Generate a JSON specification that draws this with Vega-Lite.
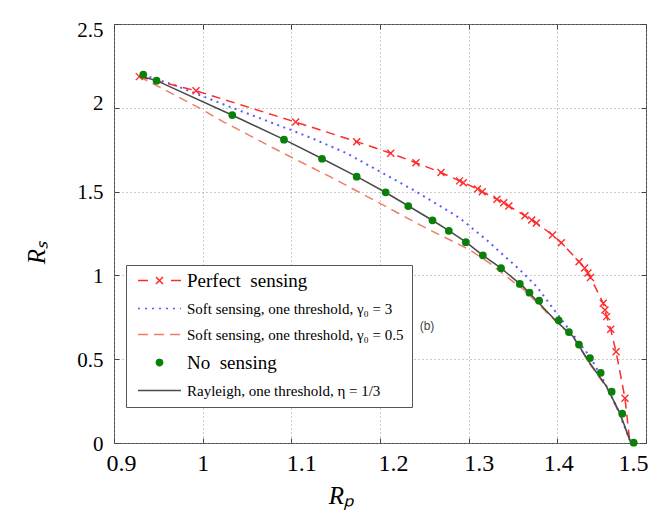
{
  "$schema": "https://vega.github.io/schema/vega-lite/v6.json",
  "width": 532,
  "height": 419,
  "autosize": {"type": "none"},
  "padding": {"left": 114, "top": 24, "right": 12, "bottom": 76},
  "background": "white",
  "config": {
    "view": {"stroke": "#4d4d4d", "strokeWidth": 1},
    "axis": {"domain": false, "tickColor": "#444", "labelColor": "black", "titleColor": "black"}
  },
  "datasets": {
    "curves": [
      {"s": "perfect", "x": 0.9285, "y": 2.186},
      {"s": "perfect", "x": 0.9925, "y": 2.102},
      {"s": "perfect", "x": 1.1049, "y": 1.915},
      {"s": "perfect", "x": 1.1737, "y": 1.798},
      {"s": "perfect", "x": 1.2121, "y": 1.729},
      {"s": "perfect", "x": 1.2406, "y": 1.672},
      {"s": "perfect", "x": 1.2688, "y": 1.614},
      {"s": "perfect", "x": 1.2897, "y": 1.564},
      {"s": "perfect", "x": 1.2939, "y": 1.553},
      {"s": "perfect", "x": 1.31, "y": 1.516},
      {"s": "perfect", "x": 1.3153, "y": 1.499},
      {"s": "perfect", "x": 1.3319, "y": 1.454},
      {"s": "perfect", "x": 1.3395, "y": 1.434},
      {"s": "perfect", "x": 1.3453, "y": 1.414},
      {"s": "perfect", "x": 1.3635, "y": 1.356},
      {"s": "perfect", "x": 1.3711, "y": 1.331},
      {"s": "perfect", "x": 1.3763, "y": 1.313},
      {"s": "perfect", "x": 1.3945, "y": 1.241},
      {"s": "perfect", "x": 1.4045, "y": 1.195},
      {"s": "perfect", "x": 1.4245, "y": 1.082},
      {"s": "perfect", "x": 1.4308, "y": 1.044},
      {"s": "perfect", "x": 1.4345, "y": 1.015},
      {"s": "perfect", "x": 1.4374, "y": 0.987},
      {"s": "perfect", "x": 1.4518, "y": 0.834},
      {"s": "perfect", "x": 1.4537, "y": 0.794},
      {"s": "perfect", "x": 1.4556, "y": 0.754},
      {"s": "perfect", "x": 1.4602, "y": 0.678},
      {"s": "perfect", "x": 1.4662, "y": 0.545},
      {"s": "perfect", "x": 1.4763, "y": 0.267},
      {"s": "perfect", "x": 1.4819, "y": 0},
      {"s": "soft3", "x": 0.933, "y": 2.196},
      {"s": "soft3", "x": 0.968, "y": 2.136},
      {"s": "soft3", "x": 1.032, "y": 2.003},
      {"s": "soft3", "x": 1.0993, "y": 1.868},
      {"s": "soft3", "x": 1.1248, "y": 1.815},
      {"s": "soft3", "x": 1.1624, "y": 1.729},
      {"s": "soft3", "x": 1.2, "y": 1.619},
      {"s": "soft3", "x": 1.2375, "y": 1.51},
      {"s": "soft3", "x": 1.2752, "y": 1.39},
      {"s": "soft3", "x": 1.2902, "y": 1.341},
      {"s": "soft3", "x": 1.3203, "y": 1.211},
      {"s": "soft3", "x": 1.339, "y": 1.122},
      {"s": "soft3", "x": 1.3579, "y": 1.032},
      {"s": "soft3", "x": 1.3767, "y": 0.933},
      {"s": "soft3", "x": 1.3993, "y": 0.774},
      {"s": "soft3", "x": 1.418, "y": 0.644},
      {"s": "soft3", "x": 1.4368, "y": 0.515},
      {"s": "soft3", "x": 1.4518, "y": 0.376},
      {"s": "soft3", "x": 1.4669, "y": 0.217},
      {"s": "soft3", "x": 1.483, "y": 0},
      {"s": "soft05", "x": 0.9285, "y": 2.186},
      {"s": "soft05", "x": 0.9527, "y": 2.12},
      {"s": "soft05", "x": 0.9933, "y": 2.007},
      {"s": "soft05", "x": 1.024, "y": 1.915},
      {"s": "soft05", "x": 1.091, "y": 1.729},
      {"s": "soft05", "x": 1.1436, "y": 1.589},
      {"s": "soft05", "x": 1.2, "y": 1.43},
      {"s": "soft05", "x": 1.2451, "y": 1.301},
      {"s": "soft05", "x": 1.2677, "y": 1.241},
      {"s": "soft05", "x": 1.3015, "y": 1.152},
      {"s": "soft05", "x": 1.324, "y": 1.072},
      {"s": "soft05", "x": 1.3429, "y": 0.992},
      {"s": "soft05", "x": 1.3616, "y": 0.918},
      {"s": "soft05", "x": 1.3993, "y": 0.72},
      {"s": "soft05", "x": 1.418, "y": 0.63},
      {"s": "soft05", "x": 1.4368, "y": 0.47},
      {"s": "soft05", "x": 1.4556, "y": 0.33},
      {"s": "soft05", "x": 1.4706, "y": 0.17},
      {"s": "soft05", "x": 1.483, "y": 0},
      {"s": "rayleigh", "x": 0.929, "y": 2.19},
      {"s": "rayleigh", "x": 0.948, "y": 2.162},
      {"s": "rayleigh", "x": 1.033, "y": 1.957},
      {"s": "rayleigh", "x": 1.092, "y": 1.81},
      {"s": "rayleigh", "x": 1.135, "y": 1.696},
      {"s": "rayleigh", "x": 1.174, "y": 1.589},
      {"s": "rayleigh", "x": 1.206, "y": 1.496},
      {"s": "rayleigh", "x": 1.232, "y": 1.414},
      {"s": "rayleigh", "x": 1.259, "y": 1.329},
      {"s": "rayleigh", "x": 1.278, "y": 1.266},
      {"s": "rayleigh", "x": 1.297, "y": 1.198},
      {"s": "rayleigh", "x": 1.316, "y": 1.12},
      {"s": "rayleigh", "x": 1.3365, "y": 1.043},
      {"s": "rayleigh", "x": 1.3616, "y": 0.933},
      {"s": "rayleigh", "x": 1.3993, "y": 0.724},
      {"s": "rayleigh", "x": 1.418, "y": 0.634},
      {"s": "rayleigh", "x": 1.4368, "y": 0.476},
      {"s": "rayleigh", "x": 1.4556, "y": 0.336},
      {"s": "rayleigh", "x": 1.4706, "y": 0.177},
      {"s": "rayleigh", "x": 1.483, "y": 0},
      {"s": "none", "x": 0.933, "y": 2.198},
      {"s": "none", "x": 0.948, "y": 2.162},
      {"s": "none", "x": 1.0334, "y": 1.957},
      {"s": "none", "x": 1.0917, "y": 1.81},
      {"s": "none", "x": 1.1346, "y": 1.696},
      {"s": "none", "x": 1.1737, "y": 1.589},
      {"s": "none", "x": 1.2064, "y": 1.496},
      {"s": "none", "x": 1.2319, "y": 1.414},
      {"s": "none", "x": 1.2592, "y": 1.329},
      {"s": "none", "x": 1.2776, "y": 1.266},
      {"s": "none", "x": 1.2968, "y": 1.198},
      {"s": "none", "x": 1.316, "y": 1.12},
      {"s": "none", "x": 1.3365, "y": 1.043},
      {"s": "none", "x": 1.3577, "y": 0.949},
      {"s": "none", "x": 1.3686, "y": 0.897},
      {"s": "none", "x": 1.3795, "y": 0.849},
      {"s": "none", "x": 1.4015, "y": 0.732},
      {"s": "none", "x": 1.4131, "y": 0.662},
      {"s": "none", "x": 1.4244, "y": 0.587},
      {"s": "none", "x": 1.4368, "y": 0.507},
      {"s": "none", "x": 1.4489, "y": 0.419},
      {"s": "none", "x": 1.4613, "y": 0.306},
      {"s": "none", "x": 1.4732, "y": 0.175},
      {"s": "none", "x": 1.4861, "y": 0.002}
    ],
    "annotation": [
      {"x": 1.253, "y": 0.698, "label": "(b)"}
    ]
  },
  "data": {"name": "curves"},
  "resolve": {"axis": {"x": "independent", "y": "independent"}},
  "layer": [
    {
      "transform": [{"filter": "datum.s === 'soft05'"}],
      "mark": {"type": "line", "strokeWidth": 1.5, "strokeDash": [9, 6]},
      "encoding": {
        "x": {
          "field": "x", "type": "quantitative",
          "scale": {"domain": [0.9, 1.5], "nice": false, "zero": false},
          "axis": {
            "orient": "bottom", "values": [0.9, 1, 1.1, 1.2, 1.3, 1.4, 1.5], "format": "~g",
            "grid": true, "gridDash": [1, 3], "gridColor": "#999", "gridWidth": 1,
            "tickSize": -5, "labelFont": "Liberation Serif", "labelFontSize": 24, "labelPadding": 13,
            "labelFlush": false,
            "labelOffset": {
              "condition": [
                {"test": "datum.value < 0.95", "value": 7},
                {"test": "datum.value < 1.05", "value": 0},
                {"test": "datum.value < 1.15", "value": 10},
                {"test": "datum.value < 1.25", "value": 13},
                {"test": "datum.value < 1.35", "value": 10},
                {"test": "datum.value < 1.45", "value": 1}
              ],
              "value": -13
            },
            "title": "Rₚ", "titleFont": "Liberation Serif", "titleFontStyle": "italic", "titleFontWeight": "normal",
            "titleFontSize": 25, "titleX": 227, "titleY": 60, "titleBaseline": "alphabetic", "titleAlign": "center"
          }
        },
        "y": {
          "field": "y", "type": "quantitative",
          "scale": {"domain": [0, 2.5], "nice": false, "zero": false},
          "axis": {
            "orient": "left", "values": [0, 0.5, 1, 1.5, 2, 2.5], "format": "~g",
            "grid": true, "gridDash": [1, 3], "gridColor": "#999", "gridWidth": 1,
            "tickSize": -5, "labelFont": "Liberation Serif", "labelFontSize": 21, "labelPadding": 16,
            "labelFlush": false,
            "labelOffset": {
              "condition": [
                {"test": "datum.value > 2.4", "value": 6},
                {"test": "datum.value > 1.9", "value": -4}
              ],
              "value": 1
            },
            "title": "Rₛ", "titleFont": "Liberation Serif", "titleFontStyle": "italic", "titleFontWeight": "normal",
            "titleFontSize": 25, "titleX": -70, "titleY": 228, "titleAngle": -90, "titleBaseline": "alphabetic", "titleAlign": "center"
          }
        },
        "color": {
          "field": "s", "type": "nominal",
          "scale": {"domain": ["perfect", "soft3", "soft05", "none", "rayleigh"], "range": ["#ff2a2a", "#5a5aff", "#ee7d68", "#0a800a", "#4a4a4a"]},
          "legend": {
            "orient": "none", "legendX": 12, "legendY": 241, "title": null,
            "symbolSize": 100, "symbolOffset": 18, "symbolStrokeWidth": 1.5,
            "labelFont": "Liberation Serif", "labelFontSize": 15, "labelColor": "black", "labelLimit": 400, "labelOffset": 20,
            "padding": 8, "rowPadding": 10, "strokeColor": "#555", "fillColor": "white",
            "labelExpr": "datum.value === 'perfect' ? 'Perfect\u00a0 sensing' : datum.value === 'soft3' ? 'Soft sensing, one threshold, γ₀ = 3' : datum.value === 'soft05' ? 'Soft sensing, one threshold, γ₀ = 0.5' : datum.value === 'none' ? 'No\u00a0 sensing' : 'Rayleigh, one threshold, η = 1/3'",
            "encode": {
              "labels": {"update": {"fontSize": {"signal": "datum.value === 'perfect' || datum.value === 'none' ? 19 : 15"}, "font": {"value": "Liberation Serif"}}},
              "symbols": {"update": {
                "shape": {"signal": "datum.value === 'perfect' ? 'M-4.3,0L-2.3,0M2.3,0L4.3,0M-0.7,-0.7L0.7,0.7M-0.7,0.7L0.7,-0.7' : datum.value === 'none' ? 'circle' : 'M-4.3,0L4.3,0'"},
                "size": {"signal": "datum.value === 'none' ? 40 : 100"},
                "fill": {"signal": "datum.value === 'none' ? '#0a800a' : 'transparent'"},
                "stroke": {"signal": "datum.value === 'perfect' ? '#ff2a2a' : datum.value === 'soft3' ? '#5a5aff' : datum.value === 'soft05' ? '#ee7d68' : datum.value === 'none' ? 'transparent' : '#4a4a4a'"},
                "strokeDash": {"signal": "datum.value === 'soft3' ? [2, 5] : datum.value === 'soft05' ? [10, 6] : [1, 0]"},
                "strokeWidth": {"value": 1.5},
                "opacity": {"value": 1}
              }}
            }
          }
        }
      }
    },
    {
      "transform": [{"filter": "datum.s === 'soft3'"}],
      "mark": {"type": "line", "strokeWidth": 2, "strokeDash": [2, 4.5]},
      "encoding": {
        "x": {"field": "x", "type": "quantitative", "axis": null},
        "y": {"field": "y", "type": "quantitative", "axis": null},
        "color": {"field": "s", "type": "nominal"}
      }
    },
    {
      "transform": [{"filter": "datum.s === 'perfect'"}],
      "mark": {"type": "line", "strokeWidth": 1.5, "strokeDash": [9, 6]},
      "encoding": {
        "x": {"field": "x", "type": "quantitative", "axis": null},
        "y": {"field": "y", "type": "quantitative", "axis": null},
        "color": {"field": "s", "type": "nominal"}
      }
    },
    {
      "transform": [{"filter": "datum.s === 'perfect' && datum.y > 0.01"}],
      "mark": {"type": "point", "shape": "M-1,-1L1,1M-1,1L1,-1", "filled": false, "size": 49, "strokeWidth": 1.4, "opacity": 1},
      "encoding": {
        "x": {"field": "x", "type": "quantitative", "axis": null},
        "y": {"field": "y", "type": "quantitative", "axis": null},
        "color": {"field": "s", "type": "nominal"}
      }
    },
    {
      "transform": [{"filter": "datum.s === 'rayleigh'"}],
      "mark": {"type": "line", "strokeWidth": 1.5},
      "encoding": {
        "x": {"field": "x", "type": "quantitative", "axis": null},
        "y": {"field": "y", "type": "quantitative", "axis": null},
        "color": {"field": "s", "type": "nominal"}
      }
    },
    {
      "transform": [{"filter": "datum.s === 'none'"}],
      "mark": {"type": "point", "shape": "circle", "filled": true, "size": 60, "opacity": 1},
      "encoding": {
        "x": {"field": "x", "type": "quantitative",
          "axis": {"orient": "top", "values": [0.9, 1, 1.1, 1.2, 1.3, 1.4, 1.5], "labels": false, "grid": false, "tickSize": -5, "title": null}},
        "y": {"field": "y", "type": "quantitative",
          "axis": {"orient": "right", "values": [0, 0.5, 1, 1.5, 2, 2.5], "labels": false, "grid": false, "tickSize": -5, "title": null}},
        "color": {"field": "s", "type": "nominal"}
      }
    },
    {
      "data": {"name": "annotation"},
      "mark": {"type": "text", "font": "Liberation Sans", "fontSize": 12, "color": "#444"},
      "encoding": {
        "x": {"field": "x", "type": "quantitative", "axis": null},
        "y": {"field": "y", "type": "quantitative", "axis": null},
        "text": {"field": "label", "type": "nominal"}
      }
    }
  ]
}
